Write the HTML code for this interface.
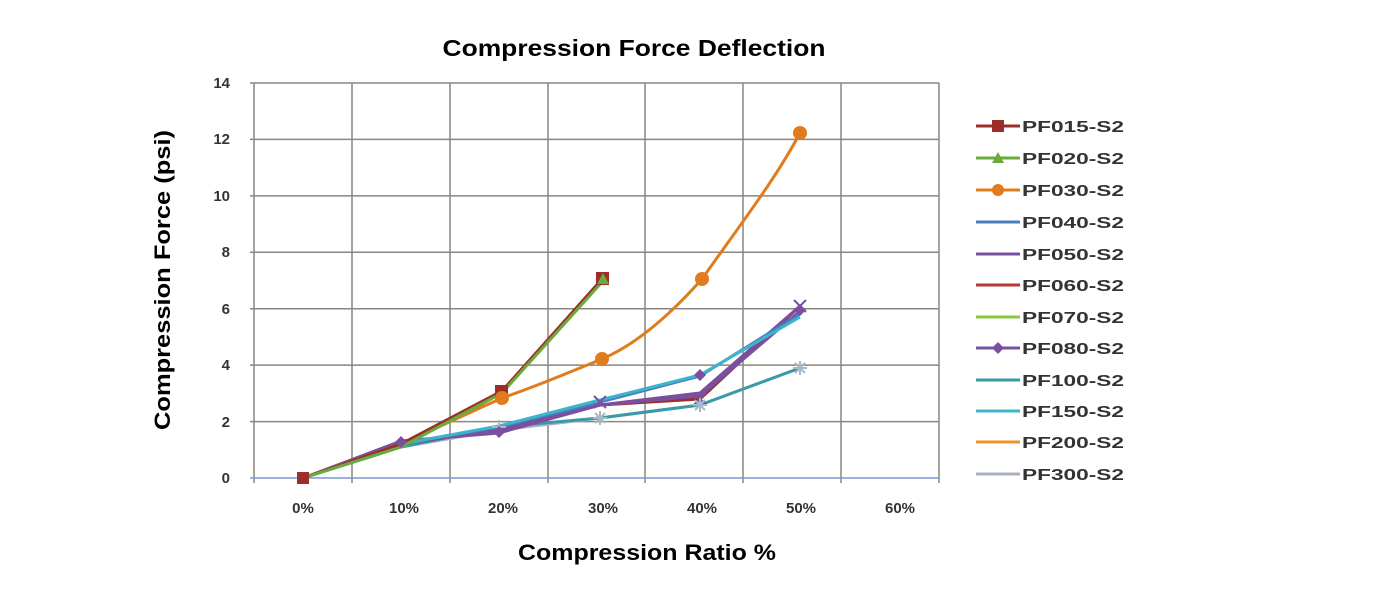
<!DOCTYPE html>
<html><head><meta charset="utf-8"><style>
body{margin:0;background:#fff;width:1386px;height:594px;overflow:hidden}
text{font-family:"Liberation Sans",sans-serif}
</style></head><body>
<svg width="1386" height="594" xmlns="http://www.w3.org/2000/svg">
<text x="634" y="56" font-size="23" font-weight="bold" text-anchor="middle" textLength="383" lengthAdjust="spacingAndGlyphs">Compression Force Deflection</text>
<g stroke="#8a8680" stroke-width="1.5">
<line x1="250" y1="83" x2="939" y2="83"/><line x1="250" y1="139.4" x2="939" y2="139.4"/>
<line x1="250" y1="195.9" x2="939" y2="195.9"/><line x1="250" y1="252.3" x2="939" y2="252.3"/>
<line x1="250" y1="308.7" x2="939" y2="308.7"/><line x1="250" y1="365.1" x2="939" y2="365.1"/>
<line x1="250" y1="421.6" x2="939" y2="421.6"/>
<line x1="254" y1="83" x2="254" y2="483"/><line x1="352" y1="83" x2="352" y2="483"/>
<line x1="450" y1="83" x2="450" y2="483"/><line x1="548" y1="83" x2="548" y2="483"/>
<line x1="645" y1="83" x2="645" y2="483"/><line x1="743" y1="83" x2="743" y2="483"/>
<line x1="841" y1="83" x2="841" y2="483"/><line x1="939" y1="83" x2="939" y2="483"/>
</g>
<line x1="250" y1="478" x2="939" y2="478" stroke="#7a9ad0" stroke-width="1.5"/>
<g font-size="15" font-weight="bold" fill="#333" text-anchor="end">
<text x="230" y="88">14</text><text x="230" y="144">12</text><text x="230" y="201">10</text>
<text x="230" y="257">8</text><text x="230" y="314">6</text><text x="230" y="370">4</text>
<text x="230" y="427">2</text><text x="230" y="483">0</text>
</g>
<g font-size="15" font-weight="bold" fill="#333" text-anchor="middle">
<text x="303" y="513">0%</text><text x="404" y="513">10%</text><text x="503" y="513">20%</text>
<text x="603" y="513">30%</text><text x="702" y="513">40%</text><text x="801" y="513">50%</text><text x="900" y="513">60%</text>
</g>
<text x="647" y="560" font-size="22" font-weight="bold" text-anchor="middle" textLength="258" lengthAdjust="spacingAndGlyphs">Compression Ratio %</text>
<text transform="translate(170,280) rotate(-90)" font-size="22" font-weight="bold" text-anchor="middle" textLength="300" lengthAdjust="spacingAndGlyphs">Compression Force  (psi)</text>
<g fill="none" stroke-width="3" stroke-linejoin="round">
<polyline stroke="#aab0c4" points="303,478 401,447 499,430 600,418 700,405 800,368"/>
<polyline stroke="#3a9aa8" points="303,478 401,447 499,427 600,418 700,405 800,368"/>
<polyline stroke="#9b2d2a" points="303,478 401,444 499,430 600,405 700,399 800,306"/>
<polyline stroke="#7a4fa0" points="303,478 401,444 499,430 600,405 700,393 800,306"/>
<polyline stroke="#7a4fa0" points="303,478 401,441 499,433 600,405 700,396 800,311"/>
<polyline stroke="#4a7cc0" points="303,478 401,444 499,427 600,402 700,376 800,314"/>
<polyline stroke="#3cb4cc" points="303,478 401,444 499,426 600,400 700,375 800,317"/>
<path stroke="#e07b1e" d="M303,478 L401,444 L502,398 C540,385 570,372 602,359 C635,345 670,315 702,279 C740,225 775,180 800,133"/>
<polyline stroke="#9b2d2a" points="303,478 401,444 502,391 603,278"/>
<polyline stroke="#6aac3c" points="303,478 401,447 502,393 603,281"/>
</g>
<g stroke-width="2" fill="none">
<path d="M594,396 l12,12 M606,396 l-12,12 M694,393 l12,12 M706,393 l-12,12 M794,300 l12,12 M806,300 l-12,12" stroke="#7a4fa0"/>
<path d="M593,418 h14 M600,411 v14 M595,413 l10,10 M605,413 l-10,10 M693,405 h14 M700,398 v14 M695,400 l10,10 M705,400 l-10,10 M793,368 h14 M800,361 v14 M795,363 l10,10 M805,363 l-10,10 M492,427 h14 M499,420 v14" stroke="#a8b8c8"/>
</g>
<rect x="297" y="472" width="12" height="12" fill="#9b2d2a"/>
<rect x="495" y="385" width="13" height="13" fill="#9b2d2a"/>
<rect x="596" y="272" width="13" height="13" fill="#9b2d2a"/>
<polygon points="603,273 609,284 597,284" fill="#6aac3c"/>
<circle cx="502" cy="398" r="7" fill="#e07b1e"/><circle cx="602" cy="359" r="7" fill="#e07b1e"/>
<circle cx="702" cy="279" r="7" fill="#e07b1e"/><circle cx="800" cy="133" r="7" fill="#e07b1e"/>
<path d="M700,369 l6,6 -6,6 -6,-6z M401,436 l6,6 -6,6 -6,-6z M800,304 l6,6 -6,6 -6,-6z M499,426 l6,6 -6,6 -6,-6z" fill="#7a4fa0"/>
<g font-size="16" font-weight="bold" fill="#333">
<g stroke-width="3">
<line x1="976" y1="126" x2="1020" y2="126" stroke="#9b2d2a"/><rect x="992" y="120" width="12" height="12" fill="#9b2d2a"/>
<line x1="976" y1="158" x2="1020" y2="158" stroke="#6aac3c"/><polygon points="998,152 1004,163 992,163" fill="#6aac3c"/>
<line x1="976" y1="190" x2="1020" y2="190" stroke="#e07b1e"/><circle cx="998" cy="190" r="6" fill="#e07b1e"/>
<line x1="976" y1="222" x2="1020" y2="222" stroke="#4a7cc0"/>
<line x1="976" y1="254" x2="1020" y2="254" stroke="#7a4fa0"/>
<line x1="976" y1="285" x2="1020" y2="285" stroke="#b83a35"/>
<line x1="976" y1="317" x2="1020" y2="317" stroke="#8cc63f"/>
<line x1="976" y1="348" x2="1020" y2="348" stroke="#7a4fa0"/><path d="M998,342 l6,6 -6,6 -6,-6z" fill="#7a4fa0"/>
<line x1="976" y1="380" x2="1020" y2="380" stroke="#3a9aa8"/>
<line x1="976" y1="411" x2="1020" y2="411" stroke="#3cb4cc"/>
<line x1="976" y1="442" x2="1020" y2="442" stroke="#f0902a"/>
<line x1="976" y1="474" x2="1020" y2="474" stroke="#aab0c4"/>
</g>
<g text-anchor="start" lengthAdjust="spacingAndGlyphs">
<text x="1022" y="132" textLength="102" lengthAdjust="spacingAndGlyphs">PF015-S2</text><text x="1022" y="164" textLength="102" lengthAdjust="spacingAndGlyphs">PF020-S2</text><text x="1022" y="196" textLength="102" lengthAdjust="spacingAndGlyphs">PF030-S2</text>
<text x="1022" y="228" textLength="102" lengthAdjust="spacingAndGlyphs">PF040-S2</text><text x="1022" y="260" textLength="102" lengthAdjust="spacingAndGlyphs">PF050-S2</text><text x="1022" y="291" textLength="102" lengthAdjust="spacingAndGlyphs">PF060-S2</text>
<text x="1022" y="323" textLength="102" lengthAdjust="spacingAndGlyphs">PF070-S2</text><text x="1022" y="354" textLength="102" lengthAdjust="spacingAndGlyphs">PF080-S2</text><text x="1022" y="386" textLength="102" lengthAdjust="spacingAndGlyphs">PF100-S2</text>
<text x="1022" y="417" textLength="102" lengthAdjust="spacingAndGlyphs">PF150-S2</text><text x="1022" y="448" textLength="102" lengthAdjust="spacingAndGlyphs">PF200-S2</text><text x="1022" y="480" textLength="102" lengthAdjust="spacingAndGlyphs">PF300-S2</text>
</g>
</g>
</svg>
</body></html>
